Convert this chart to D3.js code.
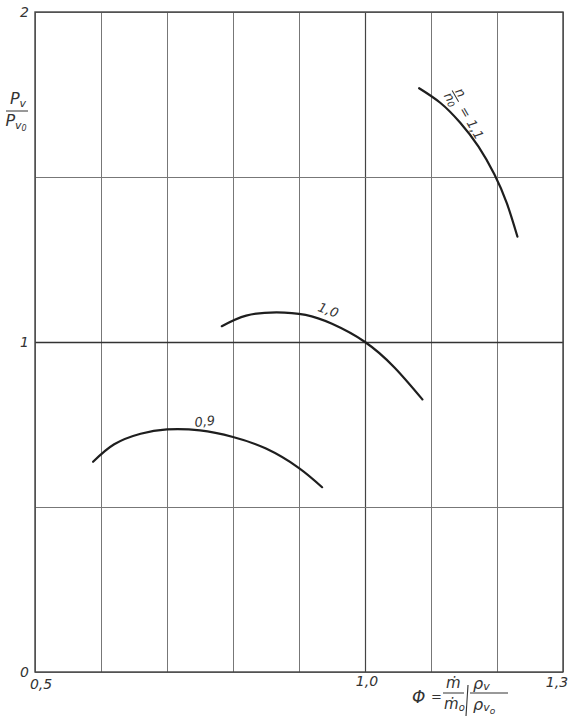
<!DOCTYPE html>
<html>
<head>
<meta charset="utf-8">
<script src="https://cdn.jsdelivr.net/npm/d3@7"></script>
<style>
  body { margin: 0; background: #fff; }
  text { font-family: "DejaVu Sans", sans-serif; font-style: italic; fill: #333; }
</style>
</head>
<body>
<div id="chart"></div>
<script>
// values
const xGrid = [0.5, 0.6, 0.7, 0.8, 0.9, 1.0, 1.1, 1.2, 1.3];
const yGrid = [0, 0.5, 1, 1.5, 2];
const xTickValues = [0.5, 1.0, 1.3];
const xTickText = ["0,5", "1,0", "1,3"];
const yTickValues = [0, 1, 2];
const yTickText = ["0", "1", "2"];
const speedRatios = ["0,9", "1,0", "1,1"];

const phi09 = [0.588, 0.62, 0.66, 0.70, 0.75, 0.80, 0.85, 0.90, 0.935];
const p09 = [0.637, 0.690, 0.722, 0.735, 0.732, 0.712, 0.677, 0.618, 0.560];
const phi10 = [0.783, 0.82, 0.866, 0.91, 0.95, 1.0, 1.045, 1.087];
const p10 = [1.048, 1.080, 1.090, 1.082, 1.055, 1.000, 0.922, 0.826];
const phi11 = [1.082, 1.114, 1.144, 1.172, 1.196, 1.215, 1.231];
const p11 = [1.769, 1.725, 1.665, 1.592, 1.508, 1.420, 1.319];

const W = 571, H = 720;
const margin = { top: 12, left: 35, right: 8, bottom: 48 };
const width = W - margin.left - margin.right;
const height = H - margin.top - margin.bottom;

const svg = d3.select("#chart").append("svg")
  .attr("width", W)
  .attr("height", H);

const g = svg.append("g")
  .attr("transform", `translate(${margin.left},${margin.top})`);

const x = d3.scaleLinear().domain([0.5, 1.3]).range([0, width]);
const y = d3.scaleLinear().domain([0, 2]).range([height, 0]);

// grid
const gx = g.append("g")
  .attr("transform", `translate(0,${height})`)
  .call(d3.axisBottom(x).tickValues(xGrid).tickSize(-height).tickFormat(""));
gx.select(".domain").remove();
gx.selectAll("line")
  .attr("stroke", d => d === 1.0 ? "#444" : "#777")
  .attr("stroke-width", d => d === 1.0 ? 1.2 : 1);

const gy = g.append("g")
  .call(d3.axisLeft(y).tickValues(yGrid).tickSize(-width).tickFormat(""));
gy.select(".domain").remove();
gy.selectAll("line")
  .attr("stroke", d => d === 1 ? "#333" : "#777")
  .attr("stroke-width", d => d === 1 ? 1.3 : 1);

// frame
g.append("rect")
  .attr("width", width)
  .attr("height", height)
  .attr("fill", "none")
  .attr("stroke", "#444")
  .attr("stroke-width", 1.4);

// tick labels
g.selectAll(".xt")
  .data(xTickValues)
  .enter().append("text")
  .attr("class", "xt")
  .attr("x", (d, i) => x(d) + [6, 2, -6][i])
  .attr("y", (d, i) => height + [17, 14, 15][i])
  .attr("text-anchor", "middle")
  .attr("font-size", 14)
  .text((d, i) => xTickText[i]);

g.selectAll(".yt")
  .data(yTickValues)
  .enter().append("text")
  .attr("class", "yt")
  .attr("x", -6)
  .attr("y", d => y(d) + 5)
  .attr("text-anchor", "end")
  .attr("font-size", 14)
  .text((d, i) => yTickText[i]);

// curves
const line = d3.line()
  .x(d => x(d[0]))
  .y(d => y(d[1]))
  .curve(d3.curveNatural);

const curves = [
  d3.zip(phi09, p09),
  d3.zip(phi10, p10),
  d3.zip(phi11, p11)
];

g.selectAll(".curve")
  .data(curves)
  .enter().append("path")
  .attr("class", "curve")
  .attr("d", line)
  .attr("fill", "none")
  .attr("stroke", "#1e1e1e")
  .attr("stroke-width", 2.2)
  .attr("stroke-linecap", "round");

// curve labels
g.append("text")
  .attr("transform", `translate(${x(0.758)},${y(0.746)}) rotate(-6)`)
  .attr("text-anchor", "middle")
  .attr("font-size", 13)
  .text(speedRatios[0]);

g.append("text")
  .attr("transform", `translate(${x(0.942)},${y(1.084)}) rotate(20)`)
  .attr("text-anchor", "middle")
  .attr("font-size", 13)
  .text(speedRatios[1]);

const lab11 = g.append("g")
  .attr("transform", `translate(${x(1.132)},${y(1.762)}) rotate(60)`);
lab11.append("line")
  .attr("x1", 0).attr("x2", 13).attr("y1", 0).attr("y2", 0)
  .attr("stroke", "#333").attr("stroke-width", 1);
lab11.append("text").attr("x", 2).attr("y", -2).attr("font-size", 13).text("n");
lab11.append("text").attr("x", 0).attr("y", 10).attr("font-size", 13)
  .text("n")
  .append("tspan").attr("font-size", 9).attr("dy", 1).text("0");
lab11.append("text").attr("x", 20).attr("y", 4).attr("font-size", 13).text("= " + speedRatios[2]);

// y axis title
const yt = svg.append("g").attr("transform", "translate(18,0)");
yt.append("text").attr("x", 0).attr("y", 104).attr("text-anchor", "middle").attr("font-size", 16)
  .text("P").append("tspan").attr("font-size", 11).attr("dy", 3).text("v");
yt.append("line").attr("x1", -12).attr("x2", 10).attr("y1", 111).attr("y2", 111)
  .attr("stroke", "#333").attr("stroke-width", 1);
const yden = yt.append("text").attr("x", -2).attr("y", 126).attr("text-anchor", "middle").attr("font-size", 16)
  .text("P");
yden.append("tspan").attr("font-size", 11).attr("dy", 3).text("v");
yden.append("tspan").attr("font-size", 8).attr("dy", 2).text("0");

// x axis title
const xt = svg.append("g");
xt.append("text").attr("x", 412).attr("y", 703).attr("font-size", 17).text("\u03A6");
xt.append("text").attr("x", 431).attr("y", 701).attr("font-size", 13).text("=");
xt.append("text").attr("x", 446).attr("y", 688).attr("font-size", 15).text("\u1E41");
xt.append("line").attr("x1", 443).attr("x2", 464).attr("y1", 693).attr("y2", 693)
  .attr("stroke", "#333").attr("stroke-width", 1);
xt.append("text").attr("x", 444).attr("y", 709).attr("font-size", 15).text("\u1E41")
  .append("tspan").attr("font-size", 10).attr("dy", 2).text("o");
xt.append("path").attr("d", "M468,685 L466,716")
  .attr("stroke", "#333").attr("stroke-width", 1.1).attr("fill", "none");
xt.append("text").attr("x", 473).attr("y", 689).attr("font-size", 16).text("\u03C1")
  .append("tspan").attr("font-size", 11).attr("dy", 1).text("v");
xt.append("line").attr("x1", 470).attr("x2", 508).attr("y1", 693).attr("y2", 693)
  .attr("stroke", "#333").attr("stroke-width", 1);
const xden = xt.append("text").attr("x", 473).attr("y", 710).attr("font-size", 16).text("\u03C1");
xden.append("tspan").attr("font-size", 11).attr("dy", 1).text("v");
xden.append("tspan").attr("font-size", 9).attr("dy", 3).text("o");
</script>
</body>
</html>
